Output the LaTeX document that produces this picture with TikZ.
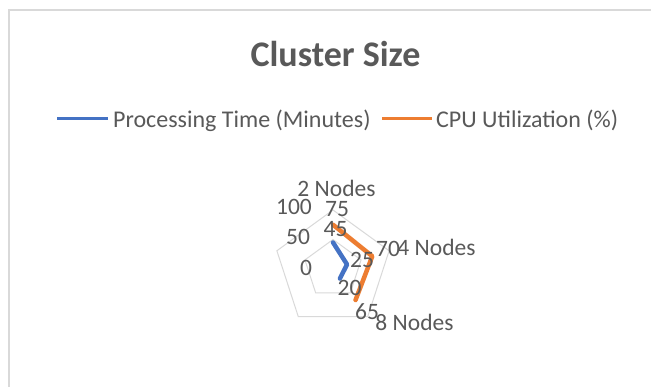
\documentclass[tikz,border=0pt]{standalone}
\usepackage{fontspec}
\setmainfont{Carlito}
\definecolor{textgray}{HTML}{595959}
\definecolor{gridgray}{HTML}{D9D9D9}
\definecolor{seriesblue}{HTML}{4472C4}
\definecolor{seriesorange}{HTML}{ED7D31}
\begin{document}
\begin{tikzpicture}[x=1pt,y=-1pt,
  lbl/.style={text=textgray, font=\fontsize{23.5}{23.5}\selectfont, inner sep=0pt, anchor=center},
  legtext/.style={text=textgray, font=\fontsize{24}{24}\selectfont, inner sep=0pt, anchor=base west},
  gridline/.style={draw=gridgray, line width=1pt},
  serieslink/.style={line width=4.5pt, line join=round, line cap=round},
  legline/.style={line width=3pt}]
  % canvas and chart border
  \useasboundingbox (0,0) rectangle (651,387);
  \fill[white] (0,0) rectangle (651,387);
  \draw[draw=gridgray, line width=2pt] (9,388) -- (9,10) -- (652,10);

  % title
  \node[text=textgray, font=\fontsize{36}{36}\selectfont\bfseries, inner sep=0pt, anchor=base] (title) at (335.5,67) {Cluster Size};

  % legend
  \coordinate (lb1) at (57,119);
  \coordinate (lb2) at (108,119);
  \draw[legline, seriesblue] (lb1) -- (lb2);
  \node[legtext] (legblue) at (113,127.5) {Processing Time (Minutes)};
  \coordinate (lo1) at (382,119);
  \coordinate (lo2) at (432,119);
  \draw[legline, seriesorange] (lo1) -- (lo2);
  \node[legtext] (legorange) at (436,127.5) {CPU Utilization (\%)};

  % radar grid: rings at 50 and 100
  \begin{scope}[shift={(333,269)}]
    \coordinate (ctr) at (0,0);
    \draw[gridline] (-90:59) -- (-18:59) -- (54:59) -- (126:59) -- (198:59) -- cycle;
    \draw[gridline] (-90:29.5) -- (-18:29.5) -- (54:29.5) -- (126:29.5) -- (198:29.5) -- cycle;

    % data points (radius = value/100 * 59)
    \coordinate (b2) at (-90:26.55);
    \coordinate (b4) at (-18:14.75);
    \coordinate (b8) at (54:11.8);
    \coordinate (o2) at (-90:44.25);
    \coordinate (o4) at (-18:41.3);
    \coordinate (o8) at (54:38.35);
  \end{scope}

  \draw[serieslink, seriesblue] (b2) -- (b4) -- (b8);
  \draw[serieslink, seriesorange] (o2) -- (o4) -- (o8);

  % value axis labels
  \node[lbl] (v100) at (294,207) {100};
  \node[lbl] (v50) at (298,237) {50};
  \node[lbl] (v0) at (306,268) {0};

  % category labels
  \node[lbl] (c2) at (336.5,188) {2 Nodes};
  \node[lbl] (c4) at (436.5,247) {4 Nodes};
  \node[lbl] (c8) at (414.5,322) {8 Nodes};

  % data labels
  \node[lbl] (d75) at (337,209.5) {75};
  \node[lbl] (d45) at (335.5,229.5) {45};
  \node[lbl] (d70) at (388,249) {70};
  \node[lbl] (d25) at (362,260) {25};
  \node[lbl] (d20) at (349.5,288) {20};
  \node[lbl] (d65) at (367,312) {65};
\end{tikzpicture}
\end{document}
